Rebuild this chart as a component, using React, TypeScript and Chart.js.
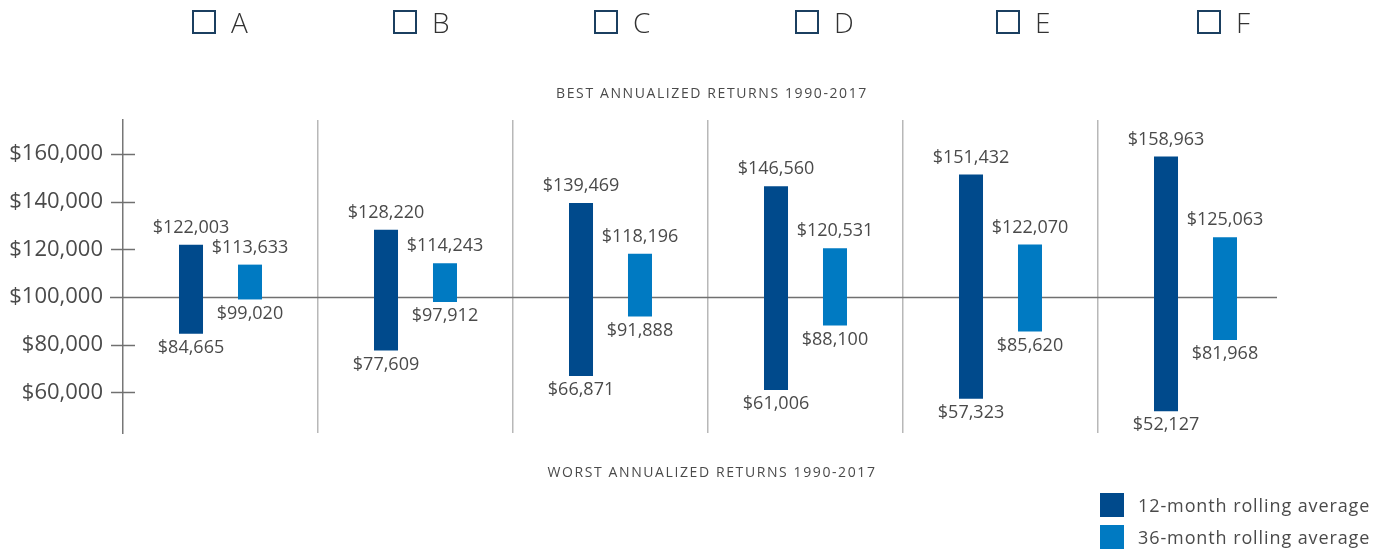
import React, { useEffect, useRef } from "react";
import { Chart, registerables } from "chart.js";

Chart.register(...registerables);

const categories = ["A", "B", "C", "D", "E", "F"];
const best12 = [122003, 128220, 139469, 146560, 151432, 158963];
const worst12 = [84665, 77609, 66871, 61006, 57323, 52127];
const best36 = [113633, 114243, 118196, 120531, 122070, 125063];
const worst36 = [99020, 97912, 91888, 88100, 85620, 81968];
const yTicks = [60000, 80000, 100000, 120000, 140000, 160000];
const seriesNames = ["12-month rolling average", "36-month rolling average"];
const bestTitle = "BEST ANNUALIZED RETURNS 1990-2017";
const worstTitle = "WORST ANNUALIZED RETURNS 1990-2017";

const DARK = "#004a8c";
const LIGHT = "#007ac2";
const TEXT = "#4a4a4a";
const FONT = "'Open Sans', 'DejaVu Sans', sans-serif";

const fmt = (v: number) => "$" + v.toLocaleString("en-US");

const decorPlugin = {
  id: "decor",
  beforeDatasetsDraw(chart: any) {
    const { ctx, chartArea } = chart;
    const y = chart.scales.y;
    ctx.save();
    ctx.strokeStyle = "#707070";
    ctx.lineWidth = 1.5;
    yTicks.forEach((v) => {
      const py = Math.round(y.getPixelForValue(v)) + 0.5;
      ctx.beginPath();
      if (v === 100000) {
        ctx.moveTo(chartArea.left - 13, py);
        ctx.lineTo(chartArea.right - 16, py);
      } else {
        ctx.moveTo(chartArea.left - 12, py);
        ctx.lineTo(chartArea.left + 12, py);
      }
      ctx.stroke();
    });
    ctx.restore();
  },
  afterDatasetsDraw(chart: any) {
    const { ctx, chartArea } = chart;
    ctx.save();
    ctx.fillStyle = TEXT;
    ctx.textAlign = "center";
    ctx.textBaseline = "middle";
    ctx.font = `18px ${FONT}`;
    const highs = [best12, best36];
    const lows = [worst12, worst36];
    chart.data.datasets.forEach((_: any, di: number) => {
      const meta = chart.getDatasetMeta(di);
      meta.data.forEach((bar: any, i: number) => {
        const top = Math.min(bar.y, bar.base);
        const bottom = Math.max(bar.y, bar.base);
        ctx.fillText(fmt(highs[di][i]), bar.x, top - 17);
        ctx.fillText(fmt(lows[di][i]), bar.x, bottom + 14);
      });
    });
    const cx = (chartArea.left + chartArea.right) / 2 + 4;
    ctx.font = `14px ${FONT}`;
    (ctx as any).letterSpacing = "1.6px";
    ctx.fillText(bestTitle, cx, chartArea.top - 26);
    ctx.fillText(worstTitle, cx, chartArea.bottom + 40);
    (ctx as any).letterSpacing = "0px";
    ctx.restore();
  },
};

export default function App() {
  const ref = useRef<HTMLCanvasElement | null>(null);

  useEffect(() => {
    if (!ref.current) return;
    const chart = new Chart(ref.current, {
      type: "bar",
      data: {
        labels: categories,
        datasets: [
          {
            label: seriesNames[0],
            data: categories.map((_, i) => [worst12[i], best12[i]]) as any,
            backgroundColor: DARK,
            categoryPercentage: 0.605,
            barPercentage: 0.407,
          },
          {
            label: seriesNames[1],
            data: categories.map((_, i) => [worst36[i], best36[i]]) as any,
            backgroundColor: LIGHT,
            categoryPercentage: 0.605,
            barPercentage: 0.407,
          },
        ],
      },
      options: {
        responsive: false,
        animation: false,
        devicePixelRatio: 1,
        layout: { padding: { left: 0, right: 94, top: 120, bottom: 121 } },
        plugins: {
          legend: { display: false },
          tooltip: { enabled: false },
          title: { display: false },
        },
        scales: {
          x: {
            ticks: { display: false },
            border: { display: false },
            grid: {
              offset: true,
              drawTicks: false,
              lineWidth: 1.5,
              color: (c: any) =>
                c.index === undefined || c.index === 0 || c.index >= categories.length
                  ? "rgba(0,0,0,0)"
                  : "#b8b8b8",
            },
          },
          y: {
            min: 43000,
            max: 174300,
            afterFit: (s: any) => {
              s.width = 123;
            },
            afterBuildTicks: (s: any) => {
              s.ticks = yTicks.map((v) => ({ value: v }));
            },
            border: { display: true, color: "#777777", width: 1.5 },
            grid: { display: false, drawTicks: false },
            ticks: {
              padding: 20,
              color: TEXT,
              font: { family: FONT, size: 22 },
              callback: (v: any) => fmt(Number(v)),
            },
          },
        },
      },
      plugins: [decorPlugin],
    });
    return () => chart.destroy();
  }, []);

  const boxStyle: React.CSSProperties = {
    width: 20,
    height: 20,
    border: "2px solid #1b3f60",
    boxSizing: "content-box",
    display: "inline-block",
  };

  return (
    <div style={{ position: "absolute", left: 0, top: 0, width: 1387, height: 554, fontFamily: FONT }}>
      <canvas ref={ref} width={1387} height={554} style={{ position: "absolute", left: 0, top: 0 }} />
      {categories.map((c, i) => (
        <div
          key={c}
          style={{
            position: "absolute",
            left: 192 + i * 201,
            top: 10,
            height: 24,
            display: "flex",
            alignItems: "center",
          }}
        >
          <span style={boxStyle} />
          <span style={{ marginLeft: 15, fontSize: 28, fontWeight: 300, color: "#333", lineHeight: "24px" }}>
            {c}
          </span>
        </div>
      ))}
      {seriesNames.map((n, i) => (
        <div
          key={n}
          style={{
            position: "absolute",
            left: 1100,
            top: 493 + i * 32,
            height: 24,
            display: "flex",
            alignItems: "center",
          }}
        >
          <span style={{ width: 24, height: 24, background: i === 0 ? DARK : LIGHT, display: "inline-block" }} />
          <span style={{ marginLeft: 14, fontSize: 18, letterSpacing: "0.9px", color: TEXT, whiteSpace: "nowrap" }}>
            {n}
          </span>
        </div>
      ))}
    </div>
  );
}
